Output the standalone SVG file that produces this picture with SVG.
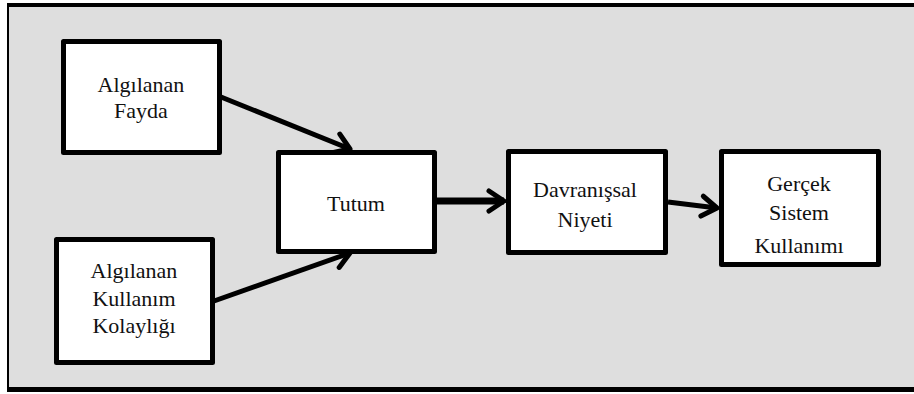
<svg xmlns="http://www.w3.org/2000/svg" width="914" height="394" viewBox="0 0 914 394">
<style>
.box{fill:#ffffff;stroke:#000000;stroke-width:5;stroke-linejoin:round}
text{font-family:"Liberation Serif","Times New Roman","DejaVu Serif",Times,serif;font-size:22px;fill:#111111;text-anchor:middle}
.conn{stroke:#000000;fill:none;stroke-width:5;marker-end:url(#ah)}
</style>
<defs>
<marker id="ah" markerUnits="userSpaceOnUse" markerWidth="40" markerHeight="40" viewBox="-20 -20 40 40" refX="0" refY="0" orient="auto" overflow="visible">
<path d="M -15 -10 L 0 0 L -15 10" fill="none" stroke="#000000" stroke-width="5" stroke-linecap="round" stroke-linejoin="round"/>
</marker>
</defs>
<rect x="8" y="5" width="906" height="385" fill="#dedede"/>
<line x1="7" y1="5" x2="914" y2="5" stroke="#000" stroke-width="4"/>
<line x1="7" y1="389.5" x2="914" y2="389.5" stroke="#000" stroke-width="5"/>
<line x1="8" y1="3" x2="8" y2="392" stroke="#000" stroke-width="2"/>
<g id="connectors">
<line class="conn" x1="221" y1="97" x2="350" y2="149"/>
<line class="conn" x1="214" y1="301" x2="350" y2="253"/>
<line class="conn" x1="437" y1="201" x2="504" y2="201" style="stroke-width:7"/>
<line class="conn" x1="668" y1="202" x2="717" y2="208"/>
</g>
<g id="fayda">
<rect class="box" x="63.5" y="41.5" width="156" height="111"/>
<text x="141" y="92" font-family="Liberation Serif, serif">Algılanan</text>
<text x="141" y="118" font-family="Liberation Serif, serif">Fayda</text>
</g>
<g id="kolaylik">
<rect class="box" x="56.5" y="239.5" width="156" height="123"/>
<text x="134" y="278" font-family="Liberation Serif, serif">Algılanan</text>
<text x="134" y="306" font-family="Liberation Serif, serif">Kullanım</text>
<text x="134" y="333" font-family="Liberation Serif, serif">Kolaylığı</text>
</g>
<g id="tutum">
<rect class="box" x="278.5" y="152.5" width="156" height="99"/>
<text x="356" y="211" font-family="Liberation Serif, serif">Tutum</text>
</g>
<g id="niyet">
<rect class="box" x="508.5" y="151.5" width="157" height="101"/>
<text x="585" y="197" font-family="Liberation Serif, serif">Davranışsal</text>
<text x="585" y="227" font-family="Liberation Serif, serif">Niyeti</text>
</g>
<g id="kullanim">
<rect class="box" x="721.5" y="151.5" width="157" height="113"/>
<text x="799" y="191" font-family="Liberation Serif, serif">Gerçek</text>
<text x="799" y="220" font-family="Liberation Serif, serif">Sistem</text>
<text x="799" y="253" font-family="Liberation Serif, serif">Kullanımı</text>
</g>
</svg>
